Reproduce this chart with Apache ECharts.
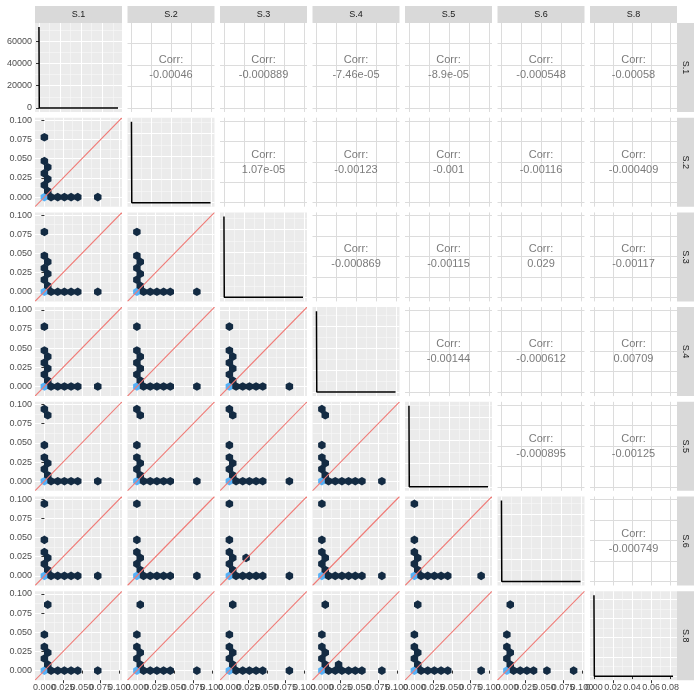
<!DOCTYPE html>
<html><head><meta charset="utf-8">
<script src="https://cdn.jsdelivr.net/npm/echarts@6/dist/echarts.min.js"></script>
<style>html,body{margin:0;padding:0;background:#fff}#c{width:700px;height:700px}</style>
</head><body><div id="c"></div>
<script>
// ---------------- DATA ----------------
const variables = ['S.1','S.2','S.3','S.4','S.5','S.6','S.8'];

// correlation text, upper triangle (row variable -> columns to its right)
const corr_S1 = ['-0.00046','-0.000889','-7.46e-05','-8.9e-05','-0.000548','-0.00058'];
const corr_S2 = ['1.07e-05','-0.00123','-0.001','-0.00116','-0.000409'];
const corr_S3 = ['-0.000869','-0.00115','0.029','-0.00117'];
const corr_S4 = ['-0.00144','-0.000612','0.00709'];
const corr_S5 = ['-0.000895','-0.00125'];
const corr_S6 = ['-0.000749'];

// hexbin centres [x, y, count]  (lower triangle: x = column variable, y = row variable)
const hex_S2_S1 = [[0,0,5000],[0.0045,0.0078,1],[0,0.0157,1],[0.0045,0.0235,1],[0,0.031,1],[0.0045,0.039,1],[0,0.047,1],[0,0.078,1],[0.0089,0,1],[0.0178,0,1],[0.0267,0,1],[0.0356,0,1],[0.0445,0,1],[0.0712,0,1]];
const hex_S3_S1 = [[0,0,5000],[0.0045,0.0078,1],[0,0.0157,1],[0.0045,0.0235,1],[0,0.031,1],[0.0045,0.039,1],[0,0.047,1],[0,0.078,1],[0.0089,0,1],[0.0178,0,1],[0.0267,0,1],[0.0356,0,1],[0.0445,0,1],[0.0712,0,1]];
const hex_S3_S2 = [[0,0,5000],[0.0045,0.0078,1],[0,0.0157,1],[0.0045,0.0235,1],[0,0.031,1],[0.0045,0.039,1],[0,0.047,1],[0,0.078,1],[0.0089,0,1],[0.0178,0,1],[0.0267,0,1],[0.0356,0,1],[0.0445,0,1],[0.080,0,1]];
const hex_S4_S1 = [[0,0,5000],[0.0045,0.0078,1],[0,0.0157,1],[0.0045,0.0235,1],[0,0.031,1],[0.0045,0.039,1],[0,0.047,1],[0,0.078,1],[0.0089,0,1],[0.0178,0,1],[0.0267,0,1],[0.0356,0,1],[0.0445,0,1],[0.0712,0,1]];
const hex_S4_S2 = [[0,0,5000],[0.0045,0.0078,1],[0,0.0157,1],[0.0045,0.0235,1],[0,0.031,1],[0.0045,0.039,1],[0,0.047,1],[0,0.078,1],[0.0089,0,1],[0.0178,0,1],[0.0267,0,1],[0.0356,0,1],[0.0445,0,1],[0.080,0,1]];
const hex_S4_S3 = [[0,0,5000],[0.0045,0.0078,1],[0,0.0157,1],[0.0045,0.0235,1],[0,0.031,1],[0.0045,0.039,1],[0,0.047,1],[0,0.078,1],[0.0089,0,1],[0.0178,0,1],[0.0267,0,1],[0.0356,0,1],[0.0445,0,1],[0.080,0,1]];
const hex_S5_S1 = [[0,0,5000],[0.0045,0.0078,1],[0,0.0157,1],[0.0045,0.0235,1],[0,0.031,1],[0,0.047,1],[0.0045,0.086,1],[0,0.094,1],[0.0089,0,1],[0.0178,0,1],[0.0267,0,1],[0.0356,0,1],[0.0445,0,1],[0.0712,0,1]];
const hex_S5_S2 = [[0,0,5000],[0.0045,0.0078,1],[0,0.0157,1],[0.0045,0.0235,1],[0,0.031,1],[0,0.047,1],[0.0045,0.086,1],[0,0.094,1],[0.0089,0,1],[0.0178,0,1],[0.0267,0,1],[0.0356,0,1],[0.0445,0,1],[0.080,0,1]];
const hex_S5_S3 = [[0,0,5000],[0.0045,0.0078,1],[0,0.0157,1],[0.0045,0.0235,1],[0,0.031,1],[0,0.047,1],[0.0045,0.086,1],[0,0.094,1],[0.0089,0,1],[0.0178,0,1],[0.0267,0,1],[0.0356,0,1],[0.0445,0,1],[0.080,0,1]];
const hex_S5_S4 = [[0,0,5000],[0.0045,0.0078,1],[0,0.0157,1],[0.0045,0.0235,1],[0,0.031,1],[0,0.047,1],[0.0045,0.086,1],[0,0.094,1],[0.0089,0,1],[0.0178,0,1],[0.0267,0,1],[0.0356,0,1],[0.0445,0,1],[0.0534,0,1],[0.080,0,1]];
const hex_S6_S1 = [[0,0,5000],[0.0045,0.0078,1],[0,0.0157,1],[0.0045,0.0235,1],[0,0.031,1],[0,0.047,1],[0,0.094,1],[0.0089,0,1],[0.0178,0,1],[0.0267,0,1],[0.0356,0,1],[0.0445,0,1],[0.0712,0,1]];
const hex_S6_S2 = [[0,0,5000],[0.0045,0.0078,1],[0,0.0157,1],[0.0045,0.0235,1],[0,0.031,1],[0,0.047,1],[0,0.094,1],[0.0089,0,1],[0.0178,0,1],[0.0267,0,1],[0.0356,0,1],[0.0445,0,1],[0.080,0,1]];
const hex_S6_S3 = [[0,0,5000],[0.0045,0.0078,1],[0,0.0157,1],[0.0045,0.0235,1],[0,0.031,1],[0,0.047,1],[0,0.094,1],[0.0223,0.0235,1],[0.0089,0,1],[0.0178,0,1],[0.0267,0,1],[0.0356,0,1],[0.0445,0,1],[0.080,0,1]];
const hex_S6_S4 = [[0,0,5000],[0.0045,0.0078,1],[0,0.0157,1],[0.0045,0.0235,1],[0,0.031,1],[0,0.047,1],[0,0.094,1],[0.0089,0,1],[0.0178,0,1],[0.0267,0,1],[0.0356,0,1],[0.0445,0,1],[0.0534,0,1],[0.080,0,1]];
const hex_S6_S5 = [[0,0,5000],[0.0045,0.0078,1],[0,0.0157,1],[0.0045,0.0235,1],[0,0.031,1],[0,0.047,1],[0,0.094,1],[0.0089,0,1],[0.0178,0,1],[0.0267,0,1],[0.0356,0,1],[0.0445,0,1],[0.089,0,1]];
const hex_S8_S1 = [[0,0,5000],[0.0045,0.0078,1],[0,0.0157,1],[0.0045,0.0235,1],[0,0.031,1],[0,0.047,1],[0.0045,0.086,1],[0.0089,0,1],[0.0178,0,1],[0.0267,0,1],[0.0356,0,1],[0.0445,0,1],[0.0712,0,1]];
const hex_S8_S2 = [[0,0,5000],[0.0045,0.0078,1],[0,0.0157,1],[0.0045,0.0235,1],[0,0.031,1],[0,0.047,1],[0.0045,0.086,1],[0.0089,0,1],[0.0178,0,1],[0.0267,0,1],[0.0356,0,1],[0.0445,0,1],[0.080,0,1]];
const hex_S8_S3 = [[0,0,5000],[0.0045,0.0078,1],[0,0.0157,1],[0.0045,0.0235,1],[0,0.031,1],[0,0.047,1],[0.0045,0.086,1],[0.0089,0,1],[0.0178,0,1],[0.0267,0,1],[0.0356,0,1],[0.0445,0,1],[0.080,0,1]];
const hex_S8_S4 = [[0,0,5000],[0.0045,0.0078,1],[0,0.0157,1],[0.0045,0.0235,1],[0,0.031,1],[0,0.047,1],[0.0045,0.086,1],[0.0223,0.0078,1],[0.0089,0,1],[0.0178,0,1],[0.0267,0,1],[0.0356,0,1],[0.0445,0,1],[0.0534,0,1],[0.080,0,1]];
const hex_S8_S5 = [[0,0,5000],[0.0045,0.0078,1],[0,0.0157,1],[0.0045,0.0235,1],[0,0.031,1],[0,0.047,1],[0.0045,0.086,1],[0.0089,0,1],[0.0178,0,1],[0.0267,0,1],[0.0356,0,1],[0.0445,0,1],[0.089,0,1]];
const hex_S8_S6 = [[0,0,5000],[0.0045,0.0078,1],[0,0.0157,1],[0.0045,0.0235,1],[0,0.031,1],[0,0.047,1],[0.0045,0.086,1],[0.0089,0,1],[0.0178,0,1],[0.0267,0,1],[0.0356,0,1],[0.0534,0,1],[0.089,0,1]];

// diagonal density curves (x, density)
const dens_S1_x = [0, 0.0006, 0.15];   const dens_S1_y = [72700, 0, 0];
const dens_S2_x = [0, 0.0004, 0.099];  const dens_S2_y = [70400, 0, 0];
const dens_S3_x = [0, 0.0004, 0.099];  const dens_S3_y = [71800, 0, 0];
const dens_S4_x = [0, 0.0004, 0.099];  const dens_S4_y = [73500, 0, 0];
const dens_S5_x = [0, 0.0004, 0.099];  const dens_S5_y = [69900, 0, 0];
const dens_S6_x = [0, 0.0004, 0.099];  const dens_S6_y = [72100, 0, 0];
const dens_S8_x = [0, 0.0004, 0.083];  const dens_S8_y = [84200, 0, 0];

// tick labels / breaks
const hexBreaks = [0, 0.025, 0.05, 0.075, 0.1];
const hexMinor = [0.0125, 0.0375, 0.0625, 0.0875];
const breaks_S1 = [0, 0.04, 0.08, 0.12];          const minor_S1 = [0.02, 0.06, 0.10, 0.14];
const breaks_S2to6 = [0, 0.025, 0.05, 0.075, 0.1]; const minor_S2to6 = [0.0125, 0.0375, 0.0625, 0.0875];
const breaks_S8 = [0, 0.02, 0.04, 0.06, 0.08];     const minor_S8 = [0.01, 0.03, 0.05, 0.07];
const densBreaks = [0, 20000, 40000, 60000, 80000];
const densMinor = [10000, 30000, 50000, 70000];

// ---------------- BUILD ----------------
const corrRows = [corr_S1, corr_S2, corr_S3, corr_S4, corr_S5, corr_S6];
const hexPanels = [
  [1,0,hex_S2_S1],
  [2,0,hex_S3_S1],[2,1,hex_S3_S2],
  [3,0,hex_S4_S1],[3,1,hex_S4_S2],[3,2,hex_S4_S3],
  [4,0,hex_S5_S1],[4,1,hex_S5_S2],[4,2,hex_S5_S3],[4,3,hex_S5_S4],
  [5,0,hex_S6_S1],[5,1,hex_S6_S2],[5,2,hex_S6_S3],[5,3,hex_S6_S4],[5,4,hex_S6_S5],
  [6,0,hex_S8_S1],[6,1,hex_S8_S2],[6,2,hex_S8_S3],[6,3,hex_S8_S4],[6,4,hex_S8_S5],[6,5,hex_S8_S6]
];
const densX = [dens_S1_x,dens_S2_x,dens_S3_x,dens_S4_x,dens_S5_x,dens_S6_x,dens_S8_x];
const densY = [dens_S1_y,dens_S2_y,dens_S3_y,dens_S4_y,dens_S5_y,dens_S6_y,dens_S8_y];
const varBreaks = [breaks_S1, breaks_S2to6, breaks_S2to6, breaks_S2to6, breaks_S2to6, breaks_S2to6, breaks_S8];
const varMinor = [minor_S1, minor_S2to6, minor_S2to6, minor_S2to6, minor_S2to6, minor_S2to6, minor_S8];

const L0 = 35, CS = 92.5, T0 = 23, RS = 94.7, PW = 87, PH = 89, STRIP = 17;
const HEX_LIM = [-0.0125, 0.1035];
const FONT = '"Liberation Sans", Arial, Helvetica, sans-serif';
const HEX = 'path://M0,-1L0.866,-0.5L0.866,0.5L0,1L-0.866,0.5L-0.866,-0.5Z';
const LOW = '#132B43', HIGH = '#56B1F7';

let cMin = Infinity, cMax = -Infinity;
hexPanels.forEach(p => p[2].forEach(d => { cMin = Math.min(cMin, d[2]); cMax = Math.max(cMax, d[2]); }));
function hexFill(params){
  const t = (params.value[2] - cMin) / (cMax - cMin);
  return echarts.color.lerp(t, [LOW, HIGH]);
}

const grids = [], xAxes = [], yAxes = [], series = [], graphics = [];

function expand(lo, hi){ const d = (hi - lo) * 0.05; return [lo - d, hi + d]; }
function dataRange(arr){ return [Math.min.apply(null, arr), Math.max.apply(null, arr)]; }

function labelAxis(gridIndex, lim, values, fmt, gridColor, withSplit){
  return {
    type:'value', gridIndex, min:lim[0], max:lim[1],
    axisLine:{show:false},
    axisTick:{show:!!fmt, length:3, lineStyle:{color:'#333333', width:1}, customValues:values},
    axisLabel:{show:!!fmt, customValues:values, formatter:fmt, fontSize:9, color:'#4D4D4D',
               fontFamily:FONT, margin:3, hideOverlap:false, interval:0, showMinLabel:true, showMaxLabel:true},
    splitLine:{show:withSplit, lineStyle:{color:gridColor, width:1}}
  };
}
function minorAxis(gridIndex, lim, minors){
  return {
    type:'value', gridIndex, min:lim[0], max:lim[1],
    axisLine:{show:false},
    axisTick:{show:false, customValues:minors},
    axisLabel:{show:false, customValues:minors},
    splitLine:{show:true, lineStyle:{color:'#F8F8F8', width:0.6}}
  };
}
const fmt3 = v => v.toFixed(3);
const fmt2 = v => v.toFixed(2);
const fmt0 = v => String(Math.round(v));

// identity reference line y = x drawn through the panel's own scales
function identityLine(params, api){
  const a = api.coord([HEX_LIM[0], HEX_LIM[0]]);
  const b = api.coord([HEX_LIM[1], HEX_LIM[1]]);
  return {type:'line', shape:{x1:a[0], y1:a[1], x2:b[0], y2:b[1]},
          style:{stroke:'#F07A76', lineWidth:1.1, fill:null}, silent:true};
}

for (let r = 0; r < 7; r++){
  for (let c = 0; c < 7; c++){
    const g = grids.length;
    const lower = r > c, diag = r === c, upper = r < c;
    grids.push({left:L0 + CS*c, top:T0 + RS*r, width:PW, height:PH,
      show:!upper, backgroundColor:'#EBEBEB', borderWidth:0, containLabel:false});
    let xlim, ylim, xb, yb, xm, ym, xfmt, yfmt;
    if (lower){
      xlim = HEX_LIM; ylim = HEX_LIM; xb = hexBreaks; yb = hexBreaks; xm = hexMinor; ym = hexMinor;
      xfmt = fmt3; yfmt = fmt3;
    } else if (diag){
      xlim = expand.apply(null, dataRange(densX[c])); ylim = expand.apply(null, dataRange(densY[c]));
      xb = varBreaks[c]; xm = varMinor[c]; yb = densBreaks; ym = densMinor;
      xfmt = c === 6 ? fmt2 : fmt3; yfmt = fmt0;
    } else {
      xlim = expand.apply(null, dataRange(densX[c])); ylim = expand.apply(null, dataRange(densX[r]));
      xb = varBreaks[c]; yb = varBreaks[r];
    }
    const gc = upper ? '#DCDCDC' : '#FFFFFF';
    const xi = xAxes.length, yi = yAxes.length;
    const bottom = r === 6;
    const xEven = xb.filter((v, k) => k % 2 === 0), xOdd = xb.filter((v, k) => k % 2 === 1);
    xAxes.push(labelAxis(g, xlim, xb, null, gc, true));
    if (bottom){
      const a1 = labelAxis(g, xlim, xEven, xfmt, gc, false); a1.position = 'bottom'; a1.offset = 0;
      const a2 = labelAxis(g, xlim, xOdd, xfmt, gc, false);  a2.position = 'bottom'; a2.offset = 0;
      xAxes.push(a1, a2);
    }
    yAxes.push(labelAxis(g, ylim, yb, c === 0 ? yfmt : null, gc, true));
    if (!upper){
      xAxes.push(minorAxis(g, xlim, xm));
      yAxes.push(minorAxis(g, ylim, ym));
    }
    if (lower){
      const p = hexPanels.find(h => h[0] === r && h[1] === c);
      series.push({type:'scatter', xAxisIndex:xi, yAxisIndex:yi, data:p[2], symbol:HEX,
        symbolSize:[7.5, 8.6], silent:true, z:3, itemStyle:{opacity:1, color:hexFill}});
      series.push({type:'custom', xAxisIndex:xi, yAxisIndex:yi, data:[[0, 0]], z:5, silent:true,
        clip:true, renderItem:identityLine});
    } else if (diag){
      series.push({type:'line', xAxisIndex:xi, yAxisIndex:yi,
        data: densX[c].map((x, k) => [x, densY[c][k]]),
        symbol:'none', silent:true, z:4, itemStyle:{color:'#000000'},
        lineStyle:{color:'#000000', width:1.5}});
    } else {
      const txt = corrRows[r][c - r - 1];
      series.push({type:'scatter', xAxisIndex:xi, yAxisIndex:yi,
        data:[[(xlim[0] + xlim[1]) / 2, (ylim[0] + ylim[1]) / 2]],
        symbolSize:1, silent:true, itemStyle:{color:'rgba(0,0,0,0)'},
        label:{show:true, position:'inside', formatter:'Corr:\n' + txt, fontSize:11, lineHeight:15,
               color:'#595959', fontFamily:FONT, align:'center', verticalAlign:'middle'}});
    }
  }
}

// facet strips
for (let c = 0; c < 7; c++){
  const x = L0 + CS*c;
  graphics.push({type:'rect', shape:{x:x, y:T0 - STRIP, width:PW, height:STRIP}, style:{fill:'#D9D9D9'}, silent:true});
  graphics.push({type:'text', x:x + PW/2, y:T0 - STRIP/2, silent:true,
    style:{text:variables[c], fill:'#1A1A1A', font:'9px ' + FONT, align:'center', verticalAlign:'middle',
           textAlign:'center', textVerticalAlign:'middle'}});
}
for (let r = 0; r < 7; r++){
  const y = T0 + RS*r, x = L0 + CS*6 + PW;
  graphics.push({type:'rect', shape:{x:x, y:y, width:STRIP, height:PH}, style:{fill:'#D9D9D9'}, silent:true});
  graphics.push({type:'text', x:x + STRIP/2, y:y + PH/2, rotation:-Math.PI/2, silent:true,
    style:{text:variables[r], fill:'#1A1A1A', font:'9px ' + FONT, align:'center', verticalAlign:'middle',
           textAlign:'center', textVerticalAlign:'middle'}});
}

const chart = echarts.init(document.getElementById('c'), null, {renderer:'canvas'});
chart.setOption({
  animation:false,
  backgroundColor:'#FFFFFF',
  grid:grids, xAxis:xAxes, yAxis:yAxes, series:series, graphic:graphics
});
</script></body></html>
